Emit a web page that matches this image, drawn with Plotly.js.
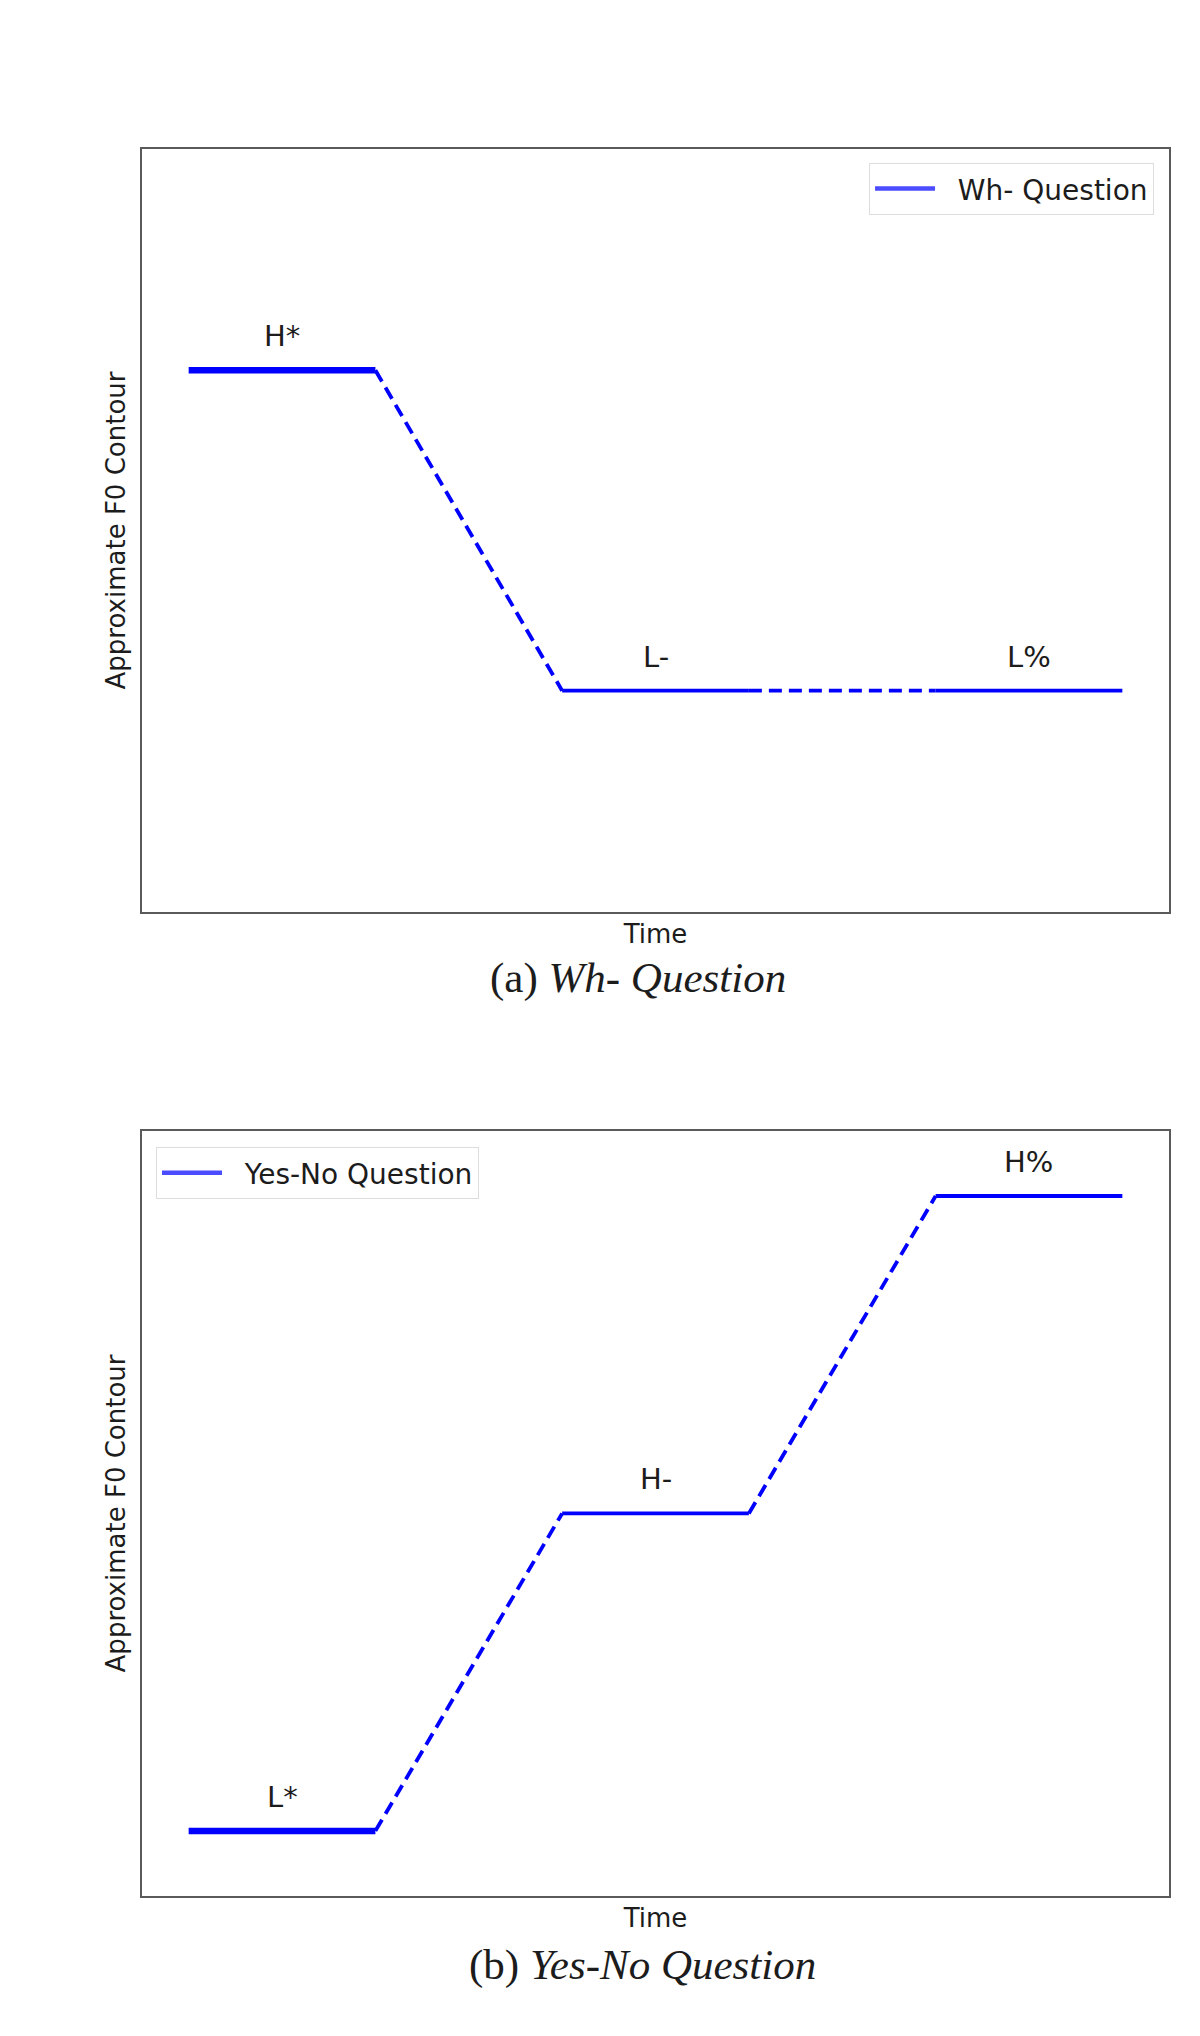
<!DOCTYPE html>
<html>
<head>
<meta charset="utf-8">
<script src="https://cdn.plot.ly/plotly-3.0.1.min.js"></script>
<style>
  html, body { margin: 0; padding: 0; background: #fff; }
  #chart { width: 1200px; height: 2036px; }
</style>
</head>
<body>
<div id="chart"></div>
<script>
// schematic F0 contours: time points and pitch level at each point
var timePts = [0, 0.2, 0.4, 0.6, 0.8, 1.0];
var whF0 = [0.71, 0.71, 0.29, 0.29, 0.29, 0.29];
var ynF0 = [0.085, 0.085, 0.5, 0.5, 0.915, 0.915];

// tone label per segment ("" = transition segment, no label)
var whTones = ["H*", "", "L-", "", "L%"];
var ynTones = ["L*", "", "H-", "", "H%"];

var seriesNames = ["Wh- Question", "Yes-No Question"];
var captions = ["(a) <i>Wh- Question</i>", "(b) <i>Yes-No Question</i>"];

var BLUE = "#0000ff";
var LEGEND_BLUE = "#4b4bff";
var TEXT = "#1c1c1c";
var SANS = "DejaVu Sans, sans-serif";
var SERIF = "Liberation Serif, Times New Roman, serif";

function segmentTraces(f0, xa, ya) {
  var traces = [];
  for (var i = 0; i < timePts.length - 1; i++) {
    var transition = i % 2 === 1;
    traces.push({
      type: "scatter",
      mode: "lines",
      x: [timePts[i], timePts[i + 1]],
      y: [f0[i], f0[i + 1]],
      xaxis: xa,
      yaxis: ya,
      showlegend: false,
      hoverinfo: "skip",
      line: {
        color: BLUE,
        width: i === 0 ? 6.5 : 3.8,
        dash: transition ? "13px,7px" : "solid"
      }
    });
  }
  return traces;
}

function toneLabels(f0, tones, xa, ya) {
  var out = [];
  tones.forEach(function(t, i) {
    if (!t) return;
    out.push({
      xref: xa, yref: ya,
      x: (timePts[i] + timePts[i + 1]) / 2,
      y: f0[i],
      text: t,
      showarrow: false,
      yanchor: "bottom",
      yshift: 15,
      font: { family: SANS, size: 29, color: TEXT }
    });
  });
  return out;
}

function legendTrace(name, xa, ya, legendId) {
  return {
    type: "scatter",
    mode: "lines",
    x: [null], y: [null],
    xaxis: xa, yaxis: ya,
    // two no-break spaces push the label away from the handle, as in the original
    name: "\u00a0\u00a0" + name,
    legend: legendId,
    showlegend: true,
    line: { color: LEGEND_BLUE, width: 4.5 }
  };
}

var data = []
  .concat(segmentTraces(whF0, "x", "y"))
  .concat([legendTrace(seriesNames[0], "x", "y", "legend")])
  .concat(segmentTraces(ynF0, "x2", "y2"))
  .concat([legendTrace(seriesNames[1], "x2", "y2", "legend2")]);

function frameAxis(domain, range, title, standoff, anchor) {
  return {
    domain: domain,
    range: range,
    anchor: anchor,
    showgrid: false,
    zeroline: false,
    showticklabels: false,
    ticks: "",
    showline: true,
    mirror: true,
    linecolor: "#5a5a5a",
    linewidth: 2,
    fixedrange: true,
    title: { text: title, standoff: standoff, font: { family: SANS, size: 26, color: TEXT } }
  };
}

var xRange = [-0.05, 1.05];
var yRange = [0, 1];

var legendStyle = {
  bgcolor: "#ffffff",
  bordercolor: "#dddddd",
  borderwidth: 1,
  font: { family: SANS, size: 28, color: TEXT },
  xref: "paper", yref: "paper",
  yanchor: "top",
  itemwidth: 60,
  tracegroupgap: 0
};

var layout = {
  width: 1200,
  height: 2036,
  margin: { l: 0, r: 0, t: 0, b: 0 },
  paper_bgcolor: "#ffffff",
  plot_bgcolor: "#ffffff",
  xaxis: frameAxis([0.1183, 0.9742], xRange, "Time", 12, "y"),
  yaxis: frameAxis([0.5521, 0.9268], yRange, "Approximate F0 Contour", 7, "x"),
  xaxis2: frameAxis([0.1183, 0.9742], xRange, "Time", 12, "y2"),
  yaxis2: frameAxis([0.0688, 0.4445], yRange, "Approximate F0 Contour", 7, "x2"),
  legend: Object.assign({}, legendStyle, { x: 0.9617, xanchor: "right", y: 0.92 }),
  legend2: Object.assign({}, legendStyle, { x: 0.13, xanchor: "left", y: 0.4366 }),
  annotations: toneLabels(whF0, whTones, "x", "y")
    .concat(toneLabels(ynF0, ynTones, "x2", "y2"))
    .concat([
      { xref: "paper", yref: "paper", x: 0.532, y: 1 - 978 / 2036, text: captions[0],
        showarrow: false, xanchor: "center", yanchor: "middle",
        font: { family: SERIF, size: 43, color: TEXT } },
      { xref: "paper", yref: "paper", x: 0.535, y: 1 - 1965 / 2036, text: captions[1],
        showarrow: false, xanchor: "center", yanchor: "middle",
        font: { family: SERIF, size: 43, color: TEXT } }
    ])
};

Plotly.newPlot("chart", data, layout, { staticPlot: true, displayModeBar: false });
</script>
</body>
</html>
